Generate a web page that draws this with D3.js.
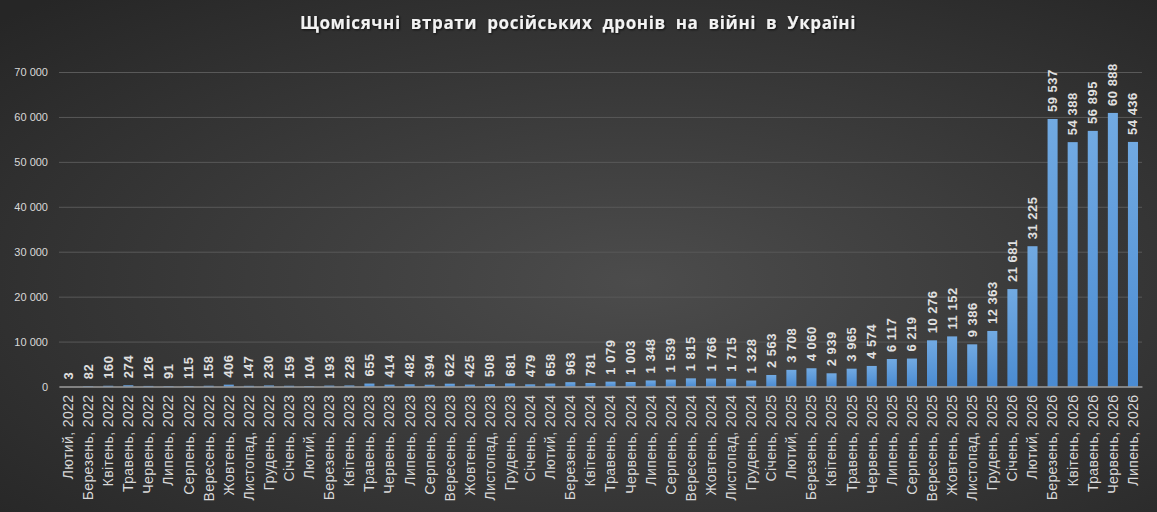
<!DOCTYPE html>
<html>
<head>
    <meta charset="utf-8">
    <title>Щомісячні втрати російських дронів</title>
    <script src="https://d3js.org/d3.v7.min.js"></script>
    <style>
        body { margin: 0; background: #2b2b2b; }
        svg { display: block; }
        .tick text { fill: #d9d9d9; }
    </style>
</head>
<body>
    <script>
        // Data
        const labels = [
            "Лютий, 2022", "Березень, 2022", "Квітень, 2022", "Травень, 2022", "Червень, 2022", "Липень, 2022",
            "Серпень, 2022", "Вересень, 2022", "Жовтень, 2022", "Листопад, 2022", "Грудень, 2022", "Січень, 2023",
            "Лютий, 2023", "Березень, 2023", "Квітень, 2023", "Травень, 2023", "Червень, 2023", "Липень, 2023",
            "Серпень, 2023", "Вересень, 2023", "Жовтень, 2023", "Листопад, 2023", "Грудень, 2023", "Січень, 2024",
            "Лютий, 2024", "Березень, 2024", "Квітень, 2024", "Травень, 2024", "Червень, 2024", "Липень, 2024",
            "Серпень, 2024", "Вересень, 2024", "Жовтень, 2024", "Листопад, 2024", "Грудень, 2024", "Січень, 2025",
            "Лютий, 2025", "Березень, 2025", "Квітень, 2025", "Травень, 2025", "Червень, 2025", "Липень, 2025",
            "Серпень, 2025", "Вересень, 2025", "Жовтень, 2025", "Листопад, 2025", "Грудень, 2025", "Січень, 2026",
            "Лютий, 2026", "Березень, 2026", "Квітень, 2026", "Травень, 2026", "Червень, 2026", "Липень, 2026"
        ];
        const losses = [
            3, 82, 160, 274, 126, 91, 115, 158, 406, 147, 230, 159,
            104, 193, 228, 655, 414, 482, 394, 622, 425, 508, 681, 479,
            658, 963, 781, 1079, 1003, 1348, 1539, 1815, 1766, 1715, 1328, 2563,
            3708, 4060, 2939, 3965, 4574, 6117, 6219, 10276, 11152, 9386, 12363, 21681,
            31225, 59537, 54388, 56895, 60888, 54436
        ];
        const yTicks = [0, 10000, 20000, 30000, 40000, 50000, 60000, 70000];

        const W = 1157, H = 512;
        const margin = { top: 72, right: 15, bottom: 125.5, left: 59 };
        const width = W - margin.left - margin.right;
        const height = H - margin.top - margin.bottom;

        const svg = d3.select("body").append("svg")
            .attr("width", W)
            .attr("height", H);

        const defs = svg.append("defs");
        const bg = defs.append("radialGradient")
            .attr("id", "bg")
            .attr("cx", "55%").attr("cy", "55%").attr("r", "75%");
        bg.append("stop").attr("offset", "0%").attr("stop-color", "#4c4c4c");
        bg.append("stop").attr("offset", "100%").attr("stop-color", "#262626");

        const barGrad = defs.append("linearGradient")
            .attr("id", "barGrad")
            .attr("x1", 0).attr("y1", 0).attr("x2", 0).attr("y2", 1);
        barGrad.append("stop").attr("offset", "0%").attr("stop-color", "#72aae2");
        barGrad.append("stop").attr("offset", "100%").attr("stop-color", "#4a8bd2");

        const shadow = defs.append("filter").attr("id", "shadow");
        shadow.append("feDropShadow")
            .attr("dx", 1).attr("dy", 1).attr("stdDeviation", 1)
            .attr("flood-color", "#000").attr("flood-opacity", 0.7);

        svg.append("rect")
            .attr("width", W).attr("height", H)
            .attr("fill", "url(#bg)");

        // Title
        svg.append("text")
            .attr("x", 578)
            .attr("y", 29)
            .attr("text-anchor", "middle")
            .attr("fill", "#f2f2f2")
            .attr("filter", "url(#shadow)")
            .style("font-family", "'Open Sans', sans-serif")
            .style("font-size", "17px")
            .style("font-weight", "bold")
            .style("letter-spacing", "0.6px")
            .style("word-spacing", "5px")
            .text("Щомісячні втрати російських дронів на війні в Україні");

        const g = svg.append("g")
            .attr("transform", `translate(${margin.left},${margin.top})`);

        const x = d3.scaleBand()
            .domain(labels)
            .range([0, width])
            .paddingInner(0.5)
            .paddingOuter(0.2);

        const y = d3.scaleLinear()
            .domain([0, 70000])
            .range([height, 0]);

        // Y axis with grid
        const fmt = v => d3.format(",")(v).replace(/,/g, " ");
        const yAxis = g.append("g")
            .call(d3.axisLeft(y).tickValues(yTicks).tickSize(-width).tickFormat(fmt).tickPadding(11));
        yAxis.select(".domain").remove();
        yAxis.selectAll(".tick line").attr("stroke", "#595959").attr("stroke-width", 1);
        yAxis.selectAll(".tick text")
            .style("font-family", "'Liberation Sans', Arial, sans-serif")
            .style("font-size", "11px");

        // Bars
        g.selectAll("rect.bar")
            .data(losses)
            .join("rect")
            .attr("class", "bar")
            .attr("x", (d, i) => x(labels[i]))
            .attr("y", d => y(d))
            .attr("width", x.bandwidth())
            .attr("height", d => height - y(d))
            .attr("fill", "url(#barGrad)");

        // Value labels
        g.selectAll("text.val")
            .data(losses)
            .join("text")
            .attr("class", "val")
            .attr("transform", (d, i) => `translate(${x(labels[i]) + x.bandwidth() / 2 + 4.5},${y(d) - 7}) rotate(-90)`)
            .attr("fill", "#e0e0e0")
            .style("font-family", "'Liberation Sans', Arial, sans-serif")
            .style("font-size", "13px")
            .style("font-weight", "bold")
            .style("letter-spacing", "0.5px")
            .text(d => fmt(d));

        // X axis
        const xAxis = g.append("g")
            .attr("transform", `translate(0,${height})`)
            .call(d3.axisBottom(x).tickSize(0).tickPadding(0));
        xAxis.select(".domain").attr("stroke", "#bfbfbf").attr("stroke-width", 1.2);
        xAxis.selectAll(".tick text")
            .attr("transform", "rotate(-90)")
            .attr("x", -8)
            .attr("y", 0)
            .attr("dy", "0.35em")
            .style("text-anchor", "end")
            .style("font-family", "'Liberation Sans', Arial, sans-serif")
            .style("font-size", "14px")
            .style("letter-spacing", "0.4px");
    </script>
</body>
</html>
